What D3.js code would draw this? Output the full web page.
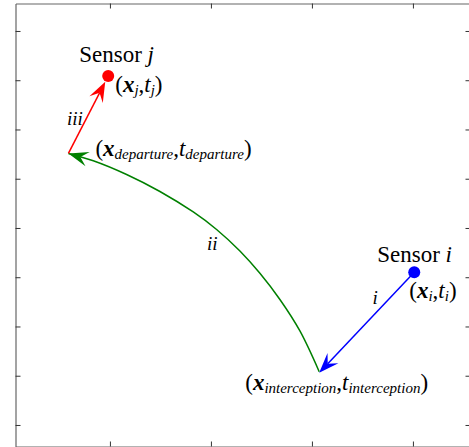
<!DOCTYPE html>
<html>
<head>
<meta charset="utf-8">
<script src="https://cdn.jsdelivr.net/npm/d3@7"></script>
<style>
  body { margin: 0; background: #fff; }
  svg text { font-family: "Liberation Serif", "Times New Roman", serif; }
</style>
</head>
<body>
<svg id="chart"></svg>
<script>
// Canvas size
const width = 469;
const height = 447;

// Axis ticks (no labels in the figure)
const xTicks = [1, 2, 3, 4];
const yTicks = [1, 2, 3, 4, 5, 6, 7, 8, 9];

// Sensors (dots)
const sensorNames = ["i", "j"];
const sensorX = [4.013, 0.983];
const sensorY = [4.10, 8.086];

// Events: interception and departure points
const eventNames = ["interception", "departure"];
const eventX = [3.072, 0.589];
const eventY = [2.062, 6.513];

// Green path ii, from interception to departure
const pathX = [3.072, 2.881, 2.683, 2.485, 2.287, 2.056, 1.825, 1.495, 1.165, 0.835, 0.597];
const pathY = [2.082, 2.909, 3.548, 4.080, 4.533, 4.970, 5.325, 5.741, 6.086, 6.365, 6.503];

// Leg labels
const legLabels = ["i", "ii", "iii"];

// Scales
const x = d3.scaleLinear().domain([0.065, 4.57]).range([15.5, 470.5]);
const y = d3.scaleLinear().domain([0.563, 9.558]).range([446.5, 3.5]);

const svg = d3.select("#chart")
    .attr("width", width)
    .attr("height", height);

// Box axes with inward ticks
const drawAxis = (axis, tx, ty) => {
    const g = svg.append("g").attr("transform", `translate(${tx},${ty})`).call(axis);
    g.select(".domain").attr("stroke", "#666").attr("stroke-width", 1.2);
    g.selectAll(".tick line").attr("stroke", "#333");
    g.selectAll("text").remove();
};
drawAxis(d3.axisBottom(x).tickValues(xTicks).tickSize(-5).tickSizeOuter(0).tickFormat(""), 0, 446.5);
drawAxis(d3.axisTop(x).tickValues(xTicks).tickSize(-5).tickSizeOuter(0).tickFormat(""), 0, 3.5);
drawAxis(d3.axisLeft(y).tickValues(yTicks).tickSize(-5).tickSizeOuter(0).tickFormat(""), 15.5, 0);
drawAxis(d3.axisRight(y).tickValues(yTicks).tickSize(-5).tickSizeOuter(0).tickFormat(""), 470.5, 0);

// Arrowhead (MATLAB vback2 style); returns the notch point where the shaft ends
const headLen = 20, headW = 15;
const drawHead = (tip, from, color) => {
    const dx = tip[0] - from[0], dy = tip[1] - from[1];
    const len = Math.hypot(dx, dy);
    const ux = dx / len, uy = dy / len;
    const px = -uy, py = ux;
    const pts = [
        tip,
        [tip[0] - ux * headLen + px * headW / 2, tip[1] - uy * headLen + py * headW / 2],
        [tip[0] - ux * headLen * 0.62, tip[1] - uy * headLen * 0.62],
        [tip[0] - ux * headLen - px * headW / 2, tip[1] - uy * headLen - py * headW / 2]
    ];
    svg.append("path")
        .attr("d", d3.line()(pts) + "Z")
        .attr("fill", color)
        .attr("stroke", "none");
    return [tip[0] - ux * headLen * 0.62, tip[1] - uy * headLen * 0.62];
};

const sensorI = [x(sensorX[0]), y(sensorY[0])];
const sensorJ = [x(sensorX[1]), y(sensorY[1])];
const interception = [x(eventX[0]), y(eventY[0])];
const departure = [x(eventX[1]), y(eventY[1])];

// Leg i: blue, sensor i -> interception
const blueBack = drawHead(interception, sensorI, "#0000ff");
svg.append("line")
    .attr("x1", sensorI[0]).attr("y1", sensorI[1])
    .attr("x2", blueBack[0]).attr("y2", blueBack[1])
    .attr("stroke", "#0000ff").attr("stroke-width", 1.5);

// Leg ii: green curve, interception -> departure
const curvePts = pathX.map((d, k) => [x(d), y(pathY[k])]);
svg.append("path")
    .attr("d", d3.line().curve(d3.curveCatmullRom)(curvePts.slice(0, -1).concat([departure])))
    .attr("fill", "none")
    .attr("stroke", "#008000")
    .attr("stroke-width", 1.5);
drawHead(departure, curvePts[curvePts.length - 2], "#008000");

// Leg iii: red, departure -> sensor j (tip stops at the dot edge)
const rdx = sensorJ[0] - departure[0], rdy = sensorJ[1] - departure[1];
const rlen = Math.hypot(rdx, rdy);
const redTip = [sensorJ[0] - rdx / rlen * 6.5, sensorJ[1] - rdy / rlen * 6.5];
const redBack = drawHead(redTip, departure, "#ff0000");
svg.append("line")
    .attr("x1", departure[0]).attr("y1", departure[1])
    .attr("x2", redBack[0]).attr("y2", redBack[1])
    .attr("stroke", "#ff0000").attr("stroke-width", 1.5);

// Sensor dots
svg.selectAll("circle.sensor")
    .data(sensorNames)
    .join("circle")
    .attr("class", "sensor")
    .attr("cx", (d, k) => x(sensorX[k]))
    .attr("cy", (d, k) => y(sensorY[k]))
    .attr("r", 6)
    .attr("fill", (d, k) => k === 0 ? "#0000ff" : "#ff0000");

// Text helpers
const fs = 23, subFs = 15;
const sensorLabel = (name, px, py) => {
    const t = svg.append("text").attr("x", px).attr("y", py).attr("font-size", fs);
    t.append("tspan").text("Sensor ");
    t.append("tspan").attr("font-style", "italic").text(name);
};
const coordLabel = (sub, px, py) => {
    const t = svg.append("text").attr("x", px).attr("y", py).attr("font-size", fs);
    t.append("tspan").text("(");
    t.append("tspan").attr("font-weight", "bold").attr("font-style", "italic").text("x");
    t.append("tspan").attr("font-style", "italic").attr("font-size", subFs).attr("dy", 3).text(sub);
    t.append("tspan").attr("dy", -3).text(",");
    t.append("tspan").attr("font-style", "italic").text("t");
    t.append("tspan").attr("font-style", "italic").attr("font-size", subFs).attr("dy", 3).text(sub);
    t.append("tspan").attr("dy", -3).text(")");
};
const italicLabel = (s, px, py) => {
    svg.append("text").attr("x", px).attr("y", py)
        .attr("font-size", fs - 4).attr("font-style", "italic").text(s);
};

// Sensor labels
sensorLabel(sensorNames[0], sensorI[0] - 37, sensorI[1] - 10);
sensorLabel(sensorNames[1], sensorJ[0] - 29, sensorJ[1] - 14);
coordLabel(sensorNames[0], sensorI[0] - 5, sensorI[1] + 26);
coordLabel(sensorNames[1], sensorJ[0] + 7, sensorJ[1] + 16);

// Event labels
coordLabel(eventNames[0], interception[0] - 74, interception[1] + 17);
coordLabel(eventNames[1], departure[0] + 27, departure[1] + 3);

// Leg labels
italicLabel(legLabels[0], 372.5, 304);
italicLabel(legLabels[1], 207, 250);
italicLabel(legLabels[2], 67, 125);
</script>
</body>
</html>
